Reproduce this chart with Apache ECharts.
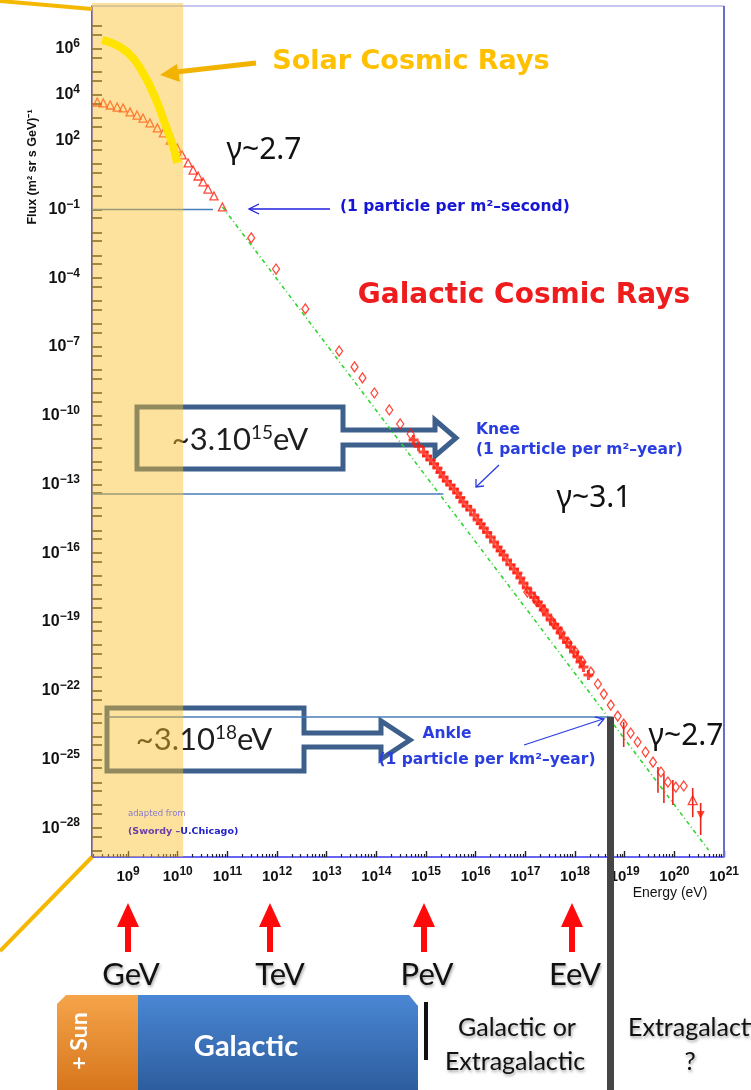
<!DOCTYPE html>
<html>
<head>
<meta charset="utf-8">
<title>Cosmic ray spectrum</title>
<script src="https://cdn.jsdelivr.net/npm/echarts@6/dist/echarts.min.js"></script>
<style>
html,body{margin:0;padding:0;background:#fff;}
#main{width:751px;height:1090px;}
</style>
</head>
<body>
<div id="main"></div>
<script>
// everything is log10: energy in eV, flux in (m2 sr s GeV)^-1
var xMin = 8.274, xMax = 21;
var yMin = -29.26, yMax = 7.88;
var xLabelExp = [9, 10, 11, 12, 13, 14, 15, 16, 17, 18, 19, 20, 21];
var yLabelExp = [6, 4, 2, -1, -4, -7, -10, -13, -16, -19, -22, -25, -28];

// low energy points (open triangles)
var triLogE = [8.38, 8.50, 8.64, 8.78, 8.90, 9.04, 9.18, 9.30, 9.44, 9.59, 9.71, 9.85, 9.99, 10.09, 10.21, 10.31, 10.41, 10.51, 10.61, 10.73, 10.90];
var triLogF = [3.69, 3.65, 3.56, 3.47, 3.43, 3.26, 3.12, 2.99, 2.78, 2.56, 2.34, 2.03, 1.68, 1.38, 1.03, 0.72, 0.46, 0.20, -0.11, -0.41, -0.89];
// direct measurements (open diamonds)
var diaLogE = [11.48, 11.98, 12.57, 13.25, 13.56, 13.72, 13.96, 14.26, 14.48, 14.69];
var diaLogF = [-2.24, -3.60, -5.34, -7.18, -7.87, -8.35, -9.01, -9.75, -10.36, -10.80];
// knee region (crosses)
var crossLogE = [14.75, 14.85, 14.95, 15.02, 15.09, 15.16, 15.23, 15.29, 15.35, 15.42, 15.49, 15.56, 15.63, 15.69, 15.75, 15.82, 15.90, 15.97, 16.04, 16.10, 16.16, 16.23, 16.30, 16.37, 16.44, 16.50, 16.56, 16.63, 16.70, 16.77, 16.84, 16.90, 16.96, 17.03, 17.11, 17.18, 17.25, 17.31, 17.37, 17.44, 17.51, 17.58, 17.65, 17.71, 17.77, 17.84, 17.91, 17.98, 18.05, 18.11, 18.17, 18.27];
var crossLogF = [-11.06, -11.33, -11.58, -11.76, -11.93, -12.10, -12.28, -12.48, -12.68, -12.86, -13.03, -13.20, -13.37, -13.57, -13.77, -13.95, -14.12, -14.33, -14.55, -14.72, -14.90, -15.10, -15.29, -15.51, -15.73, -15.90, -16.08, -16.30, -16.51, -16.69, -16.86, -17.08, -17.30, -17.52, -17.74, -17.94, -18.13, -18.30, -18.48, -18.70, -18.92, -19.10, -19.27, -19.48, -19.70, -19.90, -20.10, -20.31, -20.53, -20.75, -20.97, -21.32];
// ankle region (open diamonds)
var diaHiLogE = [17.04, 17.21, 17.37, 17.55, 17.71, 17.87, 18.01, 18.15, 18.32, 18.46, 18.58, 18.72, 18.86, 18.98, 19.12, 19.26, 19.42, 19.57, 19.73, 19.87, 20.03, 20.19];
var diaHiLogF = [-17.70, -18.05, -18.48, -19.01, -19.44, -19.92, -20.31, -20.75, -21.19, -21.71, -22.15, -22.63, -23.11, -23.46, -23.85, -24.24, -24.68, -25.12, -25.55, -25.99, -26.21, -26.16];
var triHiLogE = [20.37];
var triHiLogF = [-26.78];
var downLogE = [20.53];
var downLogF = [-27.43];
var errLogE = [18.98, 19.67, 19.79, 19.97, 20.37, 20.53];
var errLo = [-24.46, -26.46, -26.90, -26.99, -27.52, -28.30];
var errHi = [-23.37, -25.33, -25.60, -25.90, -26.25, -26.90];
// solar cosmic rays
var solarLogE = [8.48, 8.84, 9.10, 9.38, 9.59, 9.79, 9.91, 9.99];
var solarLogF = [6.40, 6.09, 5.61, 4.65, 3.65, 2.47, 1.73, 1.03];
// power law guide
var fitLogE = [10.90, 20.69];
var fitLogF = [-0.89, -28.96];
// solar band and reference levels
var bandLogE = [xMin, 10.11];
var refLevel = [-1, -13.42, -23.15];
var refFrom = [xMin, xMin, 8.58];
var refTo = [10.71, 15.35, 18.76];

function pairs(xs, ys) {
  return xs.map(function (x, i) { return [x, ys[i]]; });
}
function expLabel(v) {
  var n = Math.round(v);
  return '{b|10}{s|' + (n < 0 ? '\u2212' + (-n) : n) + '}';
}
var xMinor = [];
for (var d = 8; d < 21; d++) {
  for (var k = 2; k <= 9; k++) {
    var t = d + Math.log10(k);
    if (t > xMin) xMinor.push(t);
  }
}
var yTicks = [];
for (var n = -29; n <= 7; n++) {
  yTicks.push(n);
  if (n - 0.38 > yMin) yTicks.push(n - 0.38);
}

var chart = echarts.init(document.getElementById('main'));
var RED = '#ff1a0a';
var openStyle = { color: 'rgba(0,0,0,0)', borderColor: RED, borderWidth: 1.3 };
var plus = 'path://M3.5,0H6.5V3.5H10V6.5H6.5V10H3.5V6.5H0V3.5H3.5Z';

var series = [
  { type: 'line', data: pairs(solarLogE, solarLogF), smooth: 0.4, symbol: 'none', z: 12,
    lineStyle: { color: '#ffe400', width: 8, cap: 'butt' } },
  { type: 'line', data: pairs(fitLogE, fitLogF), symbol: 'none', z: 3,
    lineStyle: { color: '#2fd62f', width: 1.6, type: [4, 3, 1, 3] } },
  { type: 'scatter', data: pairs(triLogE, triLogF), symbol: 'triangle', symbolSize: 8, z: 5, itemStyle: openStyle },
  { type: 'scatter', data: pairs(diaLogE, diaLogF), symbol: 'diamond', symbolSize: [7, 10], z: 5, itemStyle: openStyle },
  { type: 'scatter', data: pairs(diaHiLogE, diaHiLogF), symbol: 'diamond', symbolSize: [7, 10], z: 5, itemStyle: openStyle },
  { type: 'scatter', data: pairs(crossLogE, crossLogF), symbol: plus, symbolSize: 10, z: 6, itemStyle: { color: RED } },
  { type: 'scatter', data: pairs(triHiLogE, triHiLogF), symbol: 'triangle', symbolSize: 9, z: 5, itemStyle: openStyle },
  { type: 'scatter', data: pairs(downLogE, downLogF), symbol: 'triangle', symbolRotate: 180, symbolSize: 8, z: 5, itemStyle: { color: RED } },
  { type: 'custom', z: 4,
    data: errLogE.map(function (e, i) { return [e, errLo[i], errHi[i]]; }),
    renderItem: function (params, api) {
      var lo = api.coord([api.value(0), api.value(1)]);
      var hi = api.coord([api.value(0), api.value(2)]);
      return { type: 'line', shape: { x1: lo[0], y1: lo[1], x2: hi[0], y2: hi[1] },
        style: { stroke: '#e8261e', lineWidth: 1.6 } };
    } },
  { type: 'custom', z: 10, clip: false, data: [[bandLogE[0], bandLogE[1]]],
    renderItem: function (params, api) {
      var a = api.coord([api.value(0), yMax]);
      var b = api.coord([api.value(1), yMin]);
      return { type: 'rect', shape: { x: a[0], y: a[1] - 3, width: b[0] - a[0], height: b[1] - a[1] + 3 },
        style: { fill: 'rgba(250,190,40,0.45)' } };
    } }
];
refLevel.forEach(function (lv, i) {
  series.push({ type: 'line', data: [[refFrom[i], lv], [refTo[i], lv]], symbol: 'none', z: 3,
    lineStyle: { color: '#4a7dba', width: 1.5 } });
});

var tickRich = {
  b: { fontFamily: 'Liberation Sans', fontWeight: 'bold', fontSize: 15, color: '#111' },
  s: { fontFamily: 'Liberation Sans', fontWeight: 'bold', fontSize: 12, color: '#111', padding: [0, 0, 9, 0] }
};
var tickRichY = {
  b: { fontFamily: 'Liberation Sans', fontWeight: 'bold', fontSize: 16, color: '#111' },
  s: { fontFamily: 'Liberation Sans', fontWeight: 'bold', fontSize: 12, color: '#111', padding: [0, 0, 10, 0] }
};

function txt(x, y, text, font, fill, extra) {
  var el = { type: 'text', x: x, y: y, z: 15,
    style: { text: text, font: font, fill: fill, align: 'center', verticalAlign: 'middle' } };
  if (extra) for (var key in extra) el[key] = extra[key];
  return el;
}
function shadowTxt(x, y, text, font, align) {
  return { type: 'text', x: x, y: y, z: 15,
    style: { text: text, font: font, fill: '#111', align: align || 'center', verticalAlign: 'middle',
      textShadowColor: 'rgba(0,0,0,0.35)', textShadowBlur: 3, textShadowOffsetX: 1, textShadowOffsetY: 2 } };
}
function line(points, stroke, width, z) {
  return { type: 'polyline', z: z || 15, shape: { points: points },
    style: { stroke: stroke, lineWidth: width, fill: null } };
}
function upArrow(x) {
  return { type: 'polygon', z: 15, shape: { points: [[x - 3, 952], [x - 3, 927], [x - 11, 927], [x, 903], [x + 11, 927], [x + 3, 927], [x + 3, 952]] },
    style: { fill: '#ff0a0a' } };
}
var calloutRich = {
  a: { fontFamily: 'Lato', fontSize: 31, fill: '#1e1e1e' },
  b: { fontFamily: 'Lato', fontSize: 19, fill: '#1e1e1e', padding: [0, 0, 14, 0] }
};
var gammaFont = '30px "Noto Sans"';
var blueFont = 'bold 15.5px "DejaVu Sans"';
var blueFontThin = '600 15.5px "DejaVu Sans"';

var graphics = [
  // plot frame
  line([[92, 6], [724, 6]], '#c6c6f0', 2, 1),
  line([[724, 6], [724, 857]], '#6b6bd0', 2, 1),
  // slide zoom lines
  line([[0, 1], [92, 9]], '#f5b800', 4, 20),
  line([[92, 857], [0, 951]], '#f5b800', 4, 20),
  // solar label and arrow
  txt(411, 62, 'Solar Cosmic Rays', 'bold 27px "DejaVu Sans"', '#ffc000'),
  line([[256, 63], [176, 72]], '#f2b300', 5, 15),
  { type: 'polygon', z: 15, shape: { points: [[160, 75], [177, 64], [180, 82]] }, style: { fill: '#f2b300' } },
  txt(264, 150, '\u03b3~2.7', gammaFont, '#111'),
  // 1 particle per m2 second
  line([[330, 209], [250, 209]], '#1f1fe0', 1.3, 15),
  line([[259, 204], [249, 209], [259, 214]], '#1f1fe0', 1.3, 15),
  { type: 'text', z: 15, x: 340, y: 207, style: { text: '(1 particle per m\u00b2\u2013second)', font: blueFont, fill: '#1515d5', align: 'left', verticalAlign: 'middle' } },
  txt(524, 296, 'Galactic Cosmic Rays', 'bold 28px "DejaVu Sans"', '#ee1c1c'),
  // knee callout
  { type: 'polygon', z: 2, shape: { points: [[137, 407], [343, 407], [343, 430], [435, 430], [435, 420], [456, 438], [435, 456], [435, 445], [343, 445], [343, 469], [137, 469]] },
    style: { fill: null, stroke: '#3c5f8c', lineWidth: 5, lineJoin: 'miter' } },
  { type: 'text', z: 2, x: 240, y: 440, style: { text: '{a|~3.10}{b|15}{a|eV}', rich: calloutRich, align: 'center', verticalAlign: 'middle' } },
  { type: 'text', z: 15, x: 476, y: 430, style: { text: 'Knee', font: blueFontThin, fill: '#2a3ee0', align: 'left', verticalAlign: 'middle' } },
  { type: 'text', z: 15, x: 476, y: 450, style: { text: '(1 particle per m\u00b2\u2013year)', font: blueFontThin, fill: '#2a3ee0', align: 'left', verticalAlign: 'middle' } },
  line([[499, 465], [476, 487]], '#2a3ee0', 1.3, 15),
  line([[476, 479], [476, 487], [484, 486]], '#2a3ee0', 1.3, 15),
  txt(594, 498, '\u03b3~3.1', gammaFont, '#111'),
  // ankle callout
  { type: 'polygon', z: 2, shape: { points: [[107, 708], [304, 708], [304, 733], [381, 733], [381, 721], [410, 740], [381, 759], [381, 747], [304, 747], [304, 771], [107, 771]] },
    style: { fill: null, stroke: '#3c5f8c', lineWidth: 5, lineJoin: 'miter' } },
  { type: 'text', z: 2, x: 204, y: 740, style: { text: '{a|~3.10}{b|18}{a|eV}', rich: calloutRich, align: 'center', verticalAlign: 'middle' } },
  txt(447, 734, 'Ankle', blueFontThin, '#2a3ee0'),
  txt(487, 760, '(1 particle per km\u00b2\u2013year)', blueFontThin, '#2a3ee0'),
  line([[524, 745], [603, 719]], '#2a3ee0', 1.3, 15),
  line([[595, 717], [604, 719], [598, 726]], '#2a3ee0', 1.3, 15),
  txt(686, 736, '\u03b3~2.7', gammaFont, '#111'),
  // credit
  { type: 'text', z: 15, x: 128, y: 814, style: { text: 'adapted from', font: '8.5px "DejaVu Sans"', fill: '#8a7cc8', align: 'left', verticalAlign: 'middle' } },
  { type: 'text', z: 15, x: 128, y: 832, style: { text: '{p|(Swordy \u2013}{q|U.Chicago)}', align: 'left', verticalAlign: 'middle',
    rich: { p: { font: 'bold 9.5px "DejaVu Sans"', fill: '#6a40a8' }, q: { font: 'bold 9.5px "DejaVu Sans"', fill: '#2020c8' } } } },
  // axis titles
  txt(33, 167, 'Flux (m\u00b2 sr s GeV)\u207b\u00b9', 'bold 12.5px "Liberation Sans"', '#111', { rotation: Math.PI / 2 }),
  txt(670, 893, 'Energy (eV)', '14px "Liberation Sans"', '#111'),
  // divider to extragalactic
  { type: 'rect', z: 20, shape: { x: 607, y: 717, width: 7, height: 373 }, style: { fill: '#454545' } },
  // energy names
  upArrow(128), upArrow(270), upArrow(424), upArrow(572),
  shadowTxt(131, 975, 'GeV', '31px "Lato"'),
  shadowTxt(280, 975, 'TeV', '31px "Lato"'),
  shadowTxt(427, 975, 'PeV', '31px "Lato"'),
  shadowTxt(575, 975, 'EeV', '31px "Lato"'),
  // origin boxes
  { type: 'polygon', z: 15, shape: { points: [[57, 1004], [66, 995], [138, 995], [138, 1090], [57, 1090]] },
    style: { fill: new echarts.graphic.LinearGradient(0, 0, 0, 1, [{ offset: 0, color: '#f5a44a' }, { offset: 1, color: '#d7761c' }]) } },
  { type: 'polygon', z: 15, shape: { points: [[138, 995], [409, 995], [418, 1006], [418, 1090], [138, 1090]] },
    style: { fill: new echarts.graphic.LinearGradient(0, 0, 0, 1, [{ offset: 0, color: '#4a87d4' }, { offset: 1, color: '#2d5d9e' }]) } },
  txt(80, 1041, '+ Sun', 'bold 23px "Lato"', '#fff', { rotation: Math.PI / 2 }),
  txt(246, 1047, 'Galactic', 'bold 29px "Lato"', '#fff'),
  { type: 'rect', z: 15, shape: { x: 424, y: 1002, width: 4, height: 58 }, style: { fill: '#111' } },
  shadowTxt(517, 1028, 'Galactic or', '25px "Lato"'),
  shadowTxt(515, 1062, 'Extragalactic', '25px "Lato"'),
  shadowTxt(628, 1028, 'Extragalactic', '25px "Lato"', 'left'),
  shadowTxt(690, 1062, '?', '25px "Lato"')
];

var option = {
  animation: false,
  backgroundColor: '#fff',
  grid: [
    { left: 92, right: 27, top: 6, bottom: 233 },
    { left: 92, right: 27, top: 6, bottom: 233 }
  ],
  xAxis: [
    { type: 'value', gridIndex: 0, min: xMin, max: xMax, position: 'bottom',
      axisLine: { onZero: false, lineStyle: { color: '#3434f0', width: 1.6 } },
      axisTick: { inside: true, length: 6, customValues: xLabelExp, lineStyle: { color: '#222', width: 1.4 } },
      axisLabel: { customValues: xLabelExp, margin: 9, formatter: expLabel, rich: tickRich },
      splitLine: { show: false } },
    { type: 'value', gridIndex: 1, min: xMin, max: xMax, position: 'bottom',
      axisLine: { show: false, onZero: false },
      axisTick: { inside: true, length: 3, customValues: xMinor, lineStyle: { color: '#222', width: 1.2 } },
      axisLabel: { show: false }, splitLine: { show: false } }
  ],
  yAxis: [
    { type: 'value', gridIndex: 0, min: yMin, max: yMax, position: 'left',
      axisLine: { onZero: false, lineStyle: { color: '#3434f0', width: 1.6 } },
      axisTick: { inside: true, length: 10, customValues: yTicks, lineStyle: { color: '#333', width: 1.6 } },
      axisLabel: { customValues: yLabelExp, margin: 12, formatter: expLabel, rich: tickRichY },
      splitLine: { show: false } },
    { type: 'value', gridIndex: 1, min: yMin, max: yMax, position: 'left',
      axisLine: { show: false, onZero: false }, axisTick: { show: false }, axisLabel: { show: false },
      splitLine: { show: false } }
  ],
  series: series,
  graphic: { elements: graphics }
};
chart.setOption(option);
</script>
</body>
</html>
